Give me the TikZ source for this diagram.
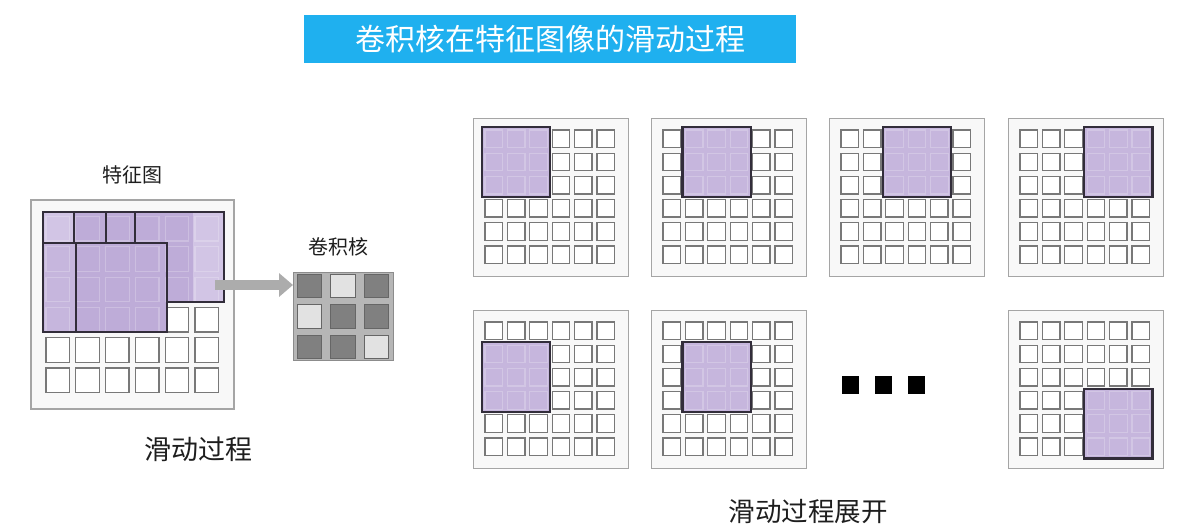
\documentclass[tikz,border=0pt]{standalone}
\usepackage{fontspec}
\newfontfamily\cjk{Noto Sans CJK SC}
\usetikzlibrary{arrows.meta}
\definecolor{titleblue}{RGB}{31,176,239}
\definecolor{winpurple}{RGB}{198,182,221}
\definecolor{winpurpleL}{RGB}{210,197,229}
\definecolor{winpurpleD}{RGB}{190,172,216}
\definecolor{cellline}{RGB}{120,120,120}
\definecolor{boxline}{RGB}{165,165,165}
\definecolor{boxfill}{RGB}{248,248,248}
\definecolor{kerngap}{RGB}{182,182,182}
\definecolor{kerndark}{RGB}{128,128,128}
\definecolor{kernlight}{RGB}{226,226,226}
\definecolor{arrowgray}{RGB}{172,172,172}
\definecolor{winline}{RGB}{50,45,58}
\definecolor{txtcol}{RGB}{30,30,30}
\tikzset{
  gridbox/.style={draw=boxline, line width=1.2pt, fill=boxfill, inner sep=0pt, anchor=north west},
  cellbox/.style={draw=cellline, line width=1.3pt, fill=white},
  winbox/.style={draw=winline, line width=2.2pt, fill=winpurple},
  winedge/.style={draw=winline, line width=2.2pt},
  wininner/.style={draw=white, opacity=0.22, line width=1.2pt},
  kcell/.style={draw=black!60, line width=0.8pt},
  txtlabel/.style={text=txtcol, inner sep=0pt},
  dotsq/.style={fill=black, minimum width=17pt, minimum height=18pt, inner sep=0pt, anchor=north west}
}
\newcommand\convgrid[5]{%
  \begin{scope}[shift={(#2,#3)}]
    \node[gridbox, minimum width=155pt, minimum height=158pt] (#1) at (0,0) {};
    \foreach \i in {0,...,5}{\foreach \j in {0,...,5}{
      \draw[cellbox] ({12+22.4*\i},{12+23.2*\j}) rectangle ++(17.5,17.5);
    }}
    \draw[winbox] ({9+22.4*#5},{9+23.2*#4}) rectangle ({12+22.4*(#5+2)+20.5},{12+23.2*(#4+2)+20.5});
    \foreach \i in {0,1,2}{\foreach \j in {0,1,2}{
      \draw[wininner] ({12+22.4*(#5+\i)},{12+23.2*(#4+\j)}) rectangle ++(17.5,17.5);
    }}
  \end{scope}}
\begin{document}
\begin{tikzpicture}[x=1pt,y=-1pt]
\useasboundingbox (0,0) rectangle (1203,528);
\fill[white] (0,0) rectangle (1203,528);

% title
\node[fill=titleblue, minimum width=492pt, minimum height=48pt, inner sep=0pt,
      text=white, font=\cjk\fontsize{30}{30}\selectfont] (title) at (550,39) {卷积核在特征图像的滑动过程};

% feature map
\node[txtlabel, font=\cjk\fontsize{20}{20}\selectfont] (fmaplabel) at (132,175) {特征图};
\node[gridbox, line width=1.5pt, minimum width=203pt, minimum height=209pt] (fmap) at (30,199) {};
\foreach \i in {0,...,5}{\foreach \j in {0,...,5}{
  \draw[cellbox] ({46+29.8*\i},{216.5+30.3*\j}) rectangle ++(23.5,24.5);
}}
\fill[winpurpleL] (43,212) rectangle (224,302);
\fill[winpurpleD] (74,212) rectangle (193,302);
\fill[winpurple] (43,243) rectangle (167,332);
\fill[winpurpleD] (76,243) rectangle (167,332);
\foreach \i/\j in {0/0,1/0,2/0,3/0,4/0,5/0,0/1,1/1,2/1,3/1,4/1,5/1,0/2,1/2,2/2,3/2,4/2,5/2,0/3,1/3,2/3,3/3}{
  \draw[wininner] ({46+29.8*\i},{216.5+30.3*\j}) rectangle ++(23.5,24.5);
}
\draw[winedge] (167,302) -- (224,302) -- (224,212) -- (43,212) -- (43,332) -- (167,332) -- (167,243) -- (43,243);
\draw[winedge] (74,212) -- (74,243) (106,212) -- (106,243) (135,212) -- (135,243) (76,243) -- (76,332);
\node[txtlabel, font=\cjk\fontsize{27}{27}\selectfont] (slide) at (198,449) {滑动过程};

% kernel
\node[txtlabel, font=\cjk\fontsize{20}{20}\selectfont] (kernlabel) at (338,247) {卷积核};
\node[draw=black!45, line width=0.8pt, fill=kerngap, minimum width=100pt, minimum height=88pt, inner sep=0pt, anchor=north west] (kernel) at (293,272) {};
\foreach \c/\r/\col in {0/0/kerndark,1/0/kernlight,2/0/kerndark,0/1/kernlight,1/1/kerndark,2/1/kerndark,0/2/kerndark,1/2/kerndark,2/2/kernlight}{
  \draw[kcell, fill=\col] ({297+33.5*\c},{274+30.5*\r}) rectangle ++(24.5,23.5);
}
\coordinate (arrS) at (215,285);
\draw[arrowgray, line width=10pt, -{Triangle[length=14pt,width=23pt]}] (arrS) -- (arrS -| kernel.west);

% unfolded sliding
\convgrid{g1}{473}{118}{0}{0}
\convgrid{g2}{651}{118}{0}{1}
\convgrid{g3}{829}{118}{0}{2}
\convgrid{g4}{1008}{118}{0}{3}
\convgrid{g5}{473}{310}{1}{0}
\convgrid{g6}{651}{310}{1}{1}
\convgrid{g7}{1008}{310}{3}{3}
\node[dotsq] (dot1) at (842,376) {};
\node[dotsq] (dot2) at (875,376) {};
\node[dotsq] (dot3) at (908,376) {};
\node[txtlabel, font=\cjk\fontsize{26.5}{26.5}\selectfont] (unfold) at (808,512) {滑动过程展开};
\end{tikzpicture}
\end{document}
